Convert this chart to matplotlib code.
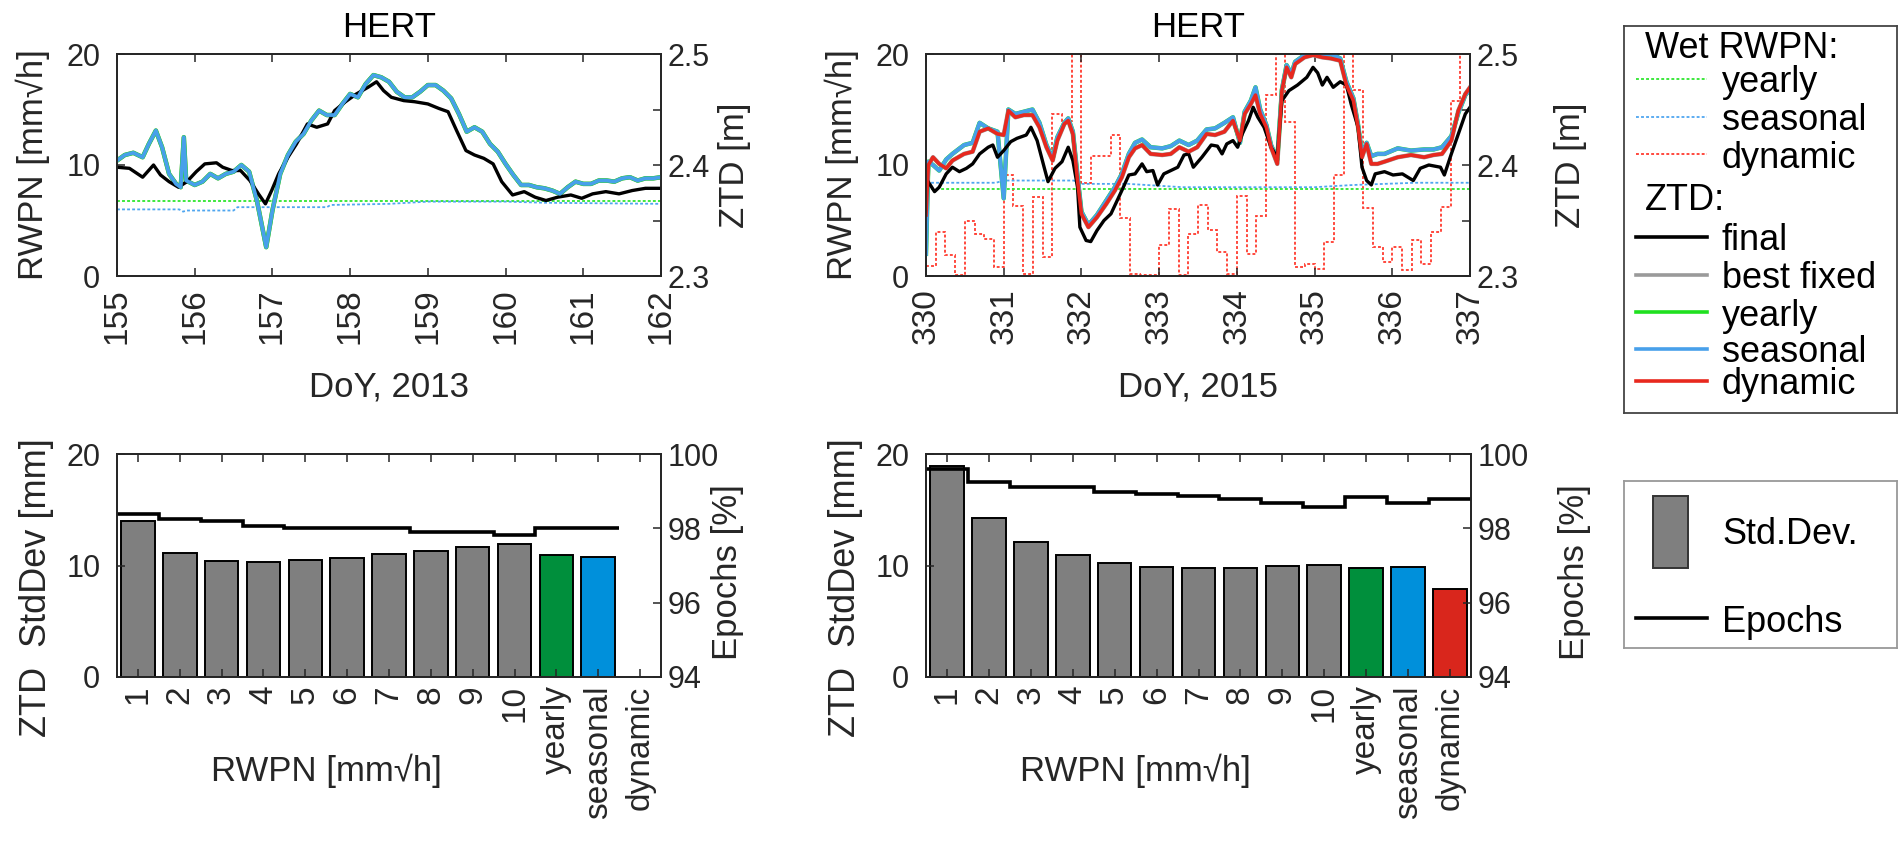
import matplotlib.pyplot as plt
from matplotlib.patches import Rectangle
from matplotlib.lines import Line2D

plt.rcParams['font.family'] = ['Liberation Sans', 'DejaVu Sans']

# ---------------- data: HERT, DoY 155-162 2013 ----------------
doy13_final = [155.00, 155.16, 155.33, 155.47, 155.56, 155.67, 155.79, 155.90, 156.02, 156.13,
               156.28, 156.36, 156.48, 156.59, 156.71, 156.82, 156.91, 156.99, 157.08, 157.20,
               157.31, 157.45, 157.57, 157.71, 157.80, 157.94, 158.08, 158.23, 158.34, 158.43,
               158.53, 158.69, 158.83, 159.00, 159.14, 159.26, 159.37, 159.49, 159.60, 159.72,
               159.84, 159.95, 160.09, 160.24, 160.38, 160.52, 160.67, 160.84, 160.98, 161.12,
               161.29, 161.46, 161.63, 161.80, 162.00]
ztd13_final = [2.398, 2.397, 2.389, 2.400, 2.391, 2.385, 2.380, 2.385, 2.394, 2.401,
               2.402, 2.398, 2.395, 2.395, 2.386, 2.374, 2.365, 2.377, 2.392, 2.407,
               2.419, 2.437, 2.434, 2.437, 2.449, 2.457, 2.464, 2.470, 2.475, 2.467,
               2.461, 2.458, 2.457, 2.455, 2.451, 2.448, 2.431, 2.413, 2.409, 2.406,
               2.401, 2.385, 2.373, 2.376, 2.371, 2.368, 2.371, 2.373, 2.370, 2.374,
               2.376, 2.374, 2.377, 2.379, 2.379]

doy13 = [155.00, 155.10, 155.21, 155.33, 155.41, 155.50, 155.58, 155.67, 155.76, 155.82,
         155.86, 155.89, 156.00, 156.10, 156.20, 156.30, 156.40, 156.50, 156.60, 156.70,
         156.80, 156.92, 157.00, 157.10, 157.20, 157.30, 157.40, 157.50, 157.60, 157.70,
         157.80, 157.90, 158.00, 158.10, 158.20, 158.30, 158.40, 158.50, 158.60, 158.70,
         158.80, 158.90, 159.00, 159.10, 159.20, 159.30, 159.40, 159.50, 159.60, 159.70,
         159.80, 159.90, 160.00, 160.10, 160.20, 160.30, 160.40, 160.50, 160.60, 160.70,
         160.80, 160.90, 161.00, 161.10, 161.20, 161.30, 161.40, 161.50, 161.60, 161.70,
         161.80, 161.90, 162.00]
ztd13_seasonal = [2.404, 2.409, 2.411, 2.407, 2.419, 2.431, 2.416, 2.392, 2.383, 2.380,
                  2.425, 2.386, 2.382, 2.385, 2.392, 2.388, 2.392, 2.394, 2.400, 2.394,
                  2.368, 2.326, 2.359, 2.392, 2.409, 2.421, 2.428, 2.440, 2.449, 2.445,
                  2.445, 2.455, 2.464, 2.461, 2.473, 2.481, 2.479, 2.475, 2.466, 2.461,
                  2.461, 2.466, 2.472, 2.472, 2.467, 2.460, 2.446, 2.430, 2.434, 2.430,
                  2.419, 2.412, 2.401, 2.391, 2.382, 2.382, 2.380, 2.379, 2.377, 2.374,
                  2.380, 2.385, 2.383, 2.383, 2.386, 2.386, 2.385, 2.388, 2.389, 2.386,
                  2.388, 2.388, 2.389]
# yearly and best-fixed ZTD lie under the seasonal curve in 2013
ztd13_yearly = ztd13_seasonal
ztd13_best = ztd13_seasonal

rwpn13_yearly_doy = [155.0, 162.0]
rwpn13_yearly = [6.8, 6.8]
rwpn13_seas_doy = [155.0, 155.8, 155.85, 155.9, 156.5, 156.55, 157.7, 157.75, 158.5, 159.0, 160.0, 160.5, 162.0]
rwpn13_seasonal = [6.0, 6.0, 5.8, 5.9, 5.9, 6.2, 6.2, 6.4, 6.5, 6.7, 6.7, 6.6, 6.5]

# ---------------- data: HERT, DoY 330-337 2015 ----------------
doy15_final = [330.00, 330.11, 330.17, 330.26, 330.34, 330.43, 330.52, 330.60, 330.69, 330.80,
               330.86, 330.92, 331.00, 331.09, 331.17, 331.29, 331.35, 331.43, 331.52, 331.57,
               331.66, 331.75, 331.83, 331.89, 331.95, 331.98, 332.06, 332.12, 332.20, 332.29,
               332.38, 332.46, 332.52, 332.61, 332.69, 332.78, 332.84, 332.92, 332.98, 333.06,
               333.15, 333.24, 333.32, 333.38, 333.44, 333.55, 333.67, 333.75, 333.81, 333.87,
               333.95, 334.01, 334.07, 334.15, 334.21, 334.27, 334.35, 334.44, 334.52, 334.55,
               334.58, 334.67, 334.78, 334.90, 334.98, 335.04, 335.10, 335.16, 335.24, 335.33,
               335.41, 335.47, 335.56, 335.61, 335.67, 335.73, 335.78, 335.90, 336.01, 336.13,
               336.27, 336.36, 336.47, 336.62, 336.67, 336.76, 336.85, 336.94, 337.00]
ztd15_final = [2.388, 2.376, 2.380, 2.392, 2.398, 2.394, 2.397, 2.401, 2.410, 2.416,
               2.418, 2.407, 2.413, 2.421, 2.424, 2.427, 2.434, 2.422, 2.398, 2.385,
               2.397, 2.403, 2.416, 2.404, 2.380, 2.344, 2.332, 2.331, 2.341, 2.350,
               2.356, 2.368, 2.377, 2.391, 2.392, 2.401, 2.394, 2.395, 2.382, 2.392,
               2.395, 2.398, 2.409, 2.410, 2.398, 2.407, 2.418, 2.417, 2.410, 2.419,
               2.422, 2.416, 2.428, 2.440, 2.452, 2.443, 2.434, 2.416, 2.407, 2.434,
               2.458, 2.467, 2.472, 2.479, 2.488, 2.483, 2.472, 2.479, 2.470, 2.475,
               2.472, 2.455, 2.434, 2.398, 2.386, 2.382, 2.392, 2.394, 2.391, 2.392,
               2.386, 2.397, 2.400, 2.398, 2.391, 2.410, 2.428, 2.446, 2.452]

doy15 = [330.00, 330.03, 330.09, 330.17, 330.26, 330.34, 330.49, 330.60, 330.69, 330.80,
         330.92, 331.00, 331.06, 331.15, 331.26, 331.37, 331.46, 331.55, 331.63, 331.69,
         331.78, 331.83, 331.89, 331.95, 332.00, 332.09, 332.20, 332.32, 332.43, 332.52,
         332.61, 332.69, 332.78, 332.89, 333.04, 333.15, 333.26, 333.38, 333.49, 333.61,
         333.72, 333.84, 333.95, 334.04, 334.10, 334.18, 334.24, 334.30, 334.38, 334.44,
         334.52, 334.58, 334.64, 334.70, 334.75, 334.87, 334.98, 335.10, 335.21, 335.33,
         335.41, 335.50, 335.56, 335.61, 335.67, 335.73, 335.81, 335.90, 336.07, 336.24,
         336.41, 336.53, 336.64, 336.76, 336.85, 336.94, 337.00]
ztd15_dynamic = [2.355, 2.400, 2.407, 2.401, 2.397, 2.404, 2.410, 2.412, 2.430, 2.433,
                 2.428, 2.427, 2.449, 2.443, 2.445, 2.445, 2.434, 2.416, 2.404, 2.422,
                 2.437, 2.440, 2.428, 2.386, 2.356, 2.344, 2.353, 2.365, 2.377, 2.389,
                 2.407, 2.415, 2.418, 2.410, 2.409, 2.410, 2.416, 2.412, 2.416, 2.428,
                 2.427, 2.430, 2.440, 2.422, 2.446, 2.455, 2.463, 2.446, 2.434, 2.416,
                 2.401, 2.467, 2.488, 2.479, 2.491, 2.497, 2.499, 2.497, 2.496, 2.494,
                 2.472, 2.458, 2.434, 2.407, 2.419, 2.401, 2.401, 2.403, 2.407, 2.409,
                 2.407, 2.409, 2.410, 2.422, 2.449, 2.464, 2.470]
ztd15_seasonal = [2.320, 2.403, 2.400, 2.395, 2.405, 2.410, 2.418, 2.420, 2.438, 2.433,
                  2.430, 2.370, 2.450, 2.446, 2.448, 2.450, 2.438, 2.418, 2.406, 2.425,
                  2.438, 2.442, 2.430, 2.390, 2.358, 2.346, 2.355, 2.368, 2.380, 2.392,
                  2.410, 2.420, 2.423, 2.416, 2.415, 2.417, 2.422, 2.418, 2.422, 2.432,
                  2.433, 2.438, 2.443, 2.420, 2.448, 2.458, 2.470, 2.450, 2.436, 2.418,
                  2.405, 2.468, 2.490, 2.482, 2.493, 2.499, 2.500, 2.499, 2.500, 2.496,
                  2.475, 2.460, 2.436, 2.410, 2.420, 2.408, 2.410, 2.410, 2.415, 2.413,
                  2.414, 2.414, 2.416, 2.426, 2.447, 2.463, 2.468]
# yearly follows seasonal, best fixed follows dynamic (hidden underneath)
ztd15_yearly = ztd15_seasonal
ztd15_best = ztd15_dynamic

rwpn15_yearly_doy = [330.0, 337.0]
rwpn15_yearly = [7.8, 7.8]
rwpn15_seas_doy = [330.0, 330.9, 331.0, 331.9, 332.0, 332.6, 333.3, 335.0, 335.5, 336.3, 337.0]
rwpn15_seasonal = [8.4, 8.4, 8.6, 8.6, 8.3, 8.3, 8.0, 8.0, 8.2, 8.4, 8.4]
# dynamic wet RWPN, 3-hourly steps (values above 20 run off the axis)
rwpn15_dynamic = [0.9, 4.0, 1.9, 0.1, 5.0, 3.8, 3.3, 0.8,
                  9.1, 6.3, 0.2, 7.1, 1.7, 14.6, 14.0, 25.0,
                  8.4, 10.8, 10.8, 12.7, 5.2, 0.2, 0.1, 0.1,
                  2.8, 6.0, 0.1, 3.8, 6.4, 4.1, 2.2, 0.2,
                  7.2, 2.0, 5.4, 16.3, 25.0, 13.9, 0.8, 1.1,
                  0.6, 3.1, 9.1, 25.0, 16.8, 6.1, 2.6, 1.3,
                  2.6, 0.5, 3.2, 1.1, 4.0, 6.2, 15.8, 25.0]
rwpn15_dyn_edges = [330 + i * 0.125 for i in range(57)]

# ---------------- data: bar charts ----------------
bar_labels = ['1', '2', '3', '4', '5', '6', '7', '8', '9', '10', 'yearly', 'seasonal', 'dynamic']
std13 = [14.0, 11.1, 10.4, 10.3, 10.45, 10.7, 11.0, 11.3, 11.65, 11.95, 10.9, 10.75]
epochs13 = [98.39, 98.25, 98.20, 98.05, 98.01, 98.01, 98.01, 97.90, 97.90, 97.81, 98.01, 98.01]
std15 = [18.95, 14.25, 12.07, 10.9, 10.18, 9.88, 9.82, 9.82, 9.94, 10.06, 9.76, 9.88, 7.93]
epochs15 = [99.60, 99.25, 99.10, 99.10, 98.99, 98.93, 98.88, 98.79, 98.69, 98.58, 98.84, 98.69, 98.79]

# ---------------- styles ----------------
AX_COL = '#262626'
C_GRAY, C_GREEN, C_BLUE, C_RED = '#9a9a9a', '#1fe01f', '#48a0ea', '#e8281e'
D_GREEN, D_BLUE, D_RED = '#2ee62e', '#4fa6f0', '#ff3a2e'
BAR_COLS = ['#7f7f7f'] * 10 + ['#008f3c', '#0090db', '#d9261c']
DOT = (0, (1.6, 1.2))
YT_FS, XT_FS, LAB_FS, LEG_FS = 22, 24, 25, 26

fig = plt.figure(figsize=(18.99, 8.5), dpi=100)
W, H = 1899.0, 850.0


def px_axes(x0, y0, x1, y1):
    return fig.add_axes([x0 / W, 1 - y1 / H, (x1 - x0) / W, (y1 - y0) / H])


def style(ax, ax2):
    for a in (ax, ax2):
        for s in a.spines.values():
            s.set_color(AX_COL)
            s.set_linewidth(1.3)
        a.tick_params(direction='in', length=6, width=1.1, colors=AX_COL,
                      labelcolor=AX_COL, labelsize=YT_FS)
    ax.tick_params(axis='x', top=True, pad=9, labelsize=XT_FS)
    ax.tick_params(axis='y', pad=12)
    ax2.tick_params(axis='y', pad=5)


def top_panel(rect, doys, ylab_r, title):
    ax = px_axes(*rect)
    ax2 = ax.twinx()
    style(ax, ax2)
    ax.set_xlim(doys[0], doys[-1])
    ax.set_xticks(doys)
    ax.set_xticklabels([str(d) for d in doys], rotation=90)
    ax.set_ylim(0, 20)
    ax.set_yticks([0, 10, 20])
    ax2.set_ylim(2.3, 2.5)
    ax2.set_yticks([2.3, 2.35, 2.4, 2.45, 2.5])
    ax2.set_yticklabels(['2.3', '', '2.4', '', '2.5'])
    ax.set_title(title, fontsize=LAB_FS, pad=12, color='k')
    ax.set_ylabel('RWPN [mm\u221ah]', fontsize=LAB_FS, color=AX_COL)
    ax.yaxis.set_label_coords(-0.155, 0.5)
    ax.yaxis.label.set_va('center')
    ax2.set_ylabel('ZTD [m]', fontsize=LAB_FS, color=AX_COL)
    ax2.yaxis.set_label_coords(ylab_r, 0.5)
    ax2.yaxis.label.set_va('center')
    return ax, ax2


# ---------- top left ----------
ax, ax2 = top_panel((117, 54, 661, 276), list(range(155, 163)), 1.135, 'HERT')
ax.plot(rwpn13_yearly_doy, rwpn13_yearly, color=D_GREEN, lw=1.3, ls=DOT)
ax.plot(rwpn13_seas_doy, rwpn13_seasonal, color=D_BLUE, lw=1.3, ls=DOT)
ax2.plot(doy13, ztd13_best, color=C_GRAY, lw=3.2)
ax2.plot(doy13, ztd13_yearly, color=C_GREEN, lw=3.2)
ax2.plot(doy13_final, ztd13_final, color='k', lw=2.4)
ax2.plot(doy13, ztd13_seasonal, color=C_BLUE, lw=2.7)
ax.set_xlabel('DoY, 2013', fontsize=LAB_FS, color=AX_COL)
ax.xaxis.set_label_coords(0.5, -0.50)
ax.xaxis.label.set_va('center')

# ---------- top right ----------
ax, ax2 = top_panel((926, 54, 1470, 276), list(range(330, 338)), 1.185, 'HERT')
ax.stairs(rwpn15_dynamic, rwpn15_dyn_edges, baseline=None, color=D_RED, lw=1.3, ls=DOT)
ax.plot(rwpn15_seas_doy, rwpn15_seasonal, color=D_BLUE, lw=1.3, ls=DOT)
ax.plot(rwpn15_yearly_doy, rwpn15_yearly, color=D_GREEN, lw=1.3, ls=DOT)
ax2.plot(doy15, ztd15_best, color=C_GRAY, lw=3.2)
ax2.plot(doy15, ztd15_yearly, color=C_GREEN, lw=3.2)
ax2.plot(doy15, ztd15_seasonal, color=C_BLUE, lw=2.9)
ax2.plot(doy15_final, ztd15_final, color='k', lw=2.4)
ax2.plot(doy15, ztd15_dynamic, color=C_RED, lw=2.6)
ax.set_xlabel('DoY, 2015', fontsize=LAB_FS, color=AX_COL)
ax.xaxis.set_label_coords(0.5, -0.50)
ax.xaxis.label.set_va('center')


# ---------- bottom panels ----------
def bottom_panel(rect, std, epochs, ylab_r):
    ax = px_axes(*rect)
    ax2 = ax.twinx()
    style(ax, ax2)
    ax.tick_params(axis='x', pad=6, labelsize=24)
    pos = list(range(1, len(std) + 1))
    ax.bar(pos, std, width=0.8, color=BAR_COLS[:len(std)], edgecolor='k', lw=1.4)
    edges = [p - 0.5 for p in pos] + [len(std) + 0.5]
    ax2.stairs(epochs, edges, baseline=None, color='k', lw=2.6)
    ax.set_xlim(0.5, 13.5)
    ax.set_xticks(range(1, 14))
    ax.set_xticklabels(bar_labels, rotation=90)
    ax.set_ylim(0, 20)
    ax.set_yticks([0, 10, 20])
    ax2.set_ylim(94, 100)
    ax2.set_yticks([94, 96, 98, 100])
    ax.set_ylabel('ZTD  StdDev [mm]', fontsize=LAB_FS + 1, color=AX_COL)
    ax.yaxis.set_label_coords(-0.148, 0.40)
    ax.yaxis.label.set_va('center')
    ax2.set_ylabel('Epochs [%]', fontsize=LAB_FS, color=AX_COL)
    ax2.yaxis.set_label_coords(ylab_r, 0.47)
    ax2.yaxis.label.set_va('center')
    ax.set_xlabel('RWPN [mm\u221ah]', fontsize=LAB_FS, color=AX_COL)
    ax.xaxis.set_label_coords(5 / 13, -0.42)
    ax.xaxis.label.set_va('center')
    return ax, ax2


bottom_panel((117, 454, 661, 677), std13, epochs13, 1.122)
bottom_panel((926, 454, 1471, 677), std15, epochs15, 1.19)

# ---------- legend: time series ----------
lg = px_axes(1624, 26, 1897, 413)
lg.set_xlim(0, 273)
lg.set_ylim(387, 0)
lg.set_xticks([])
lg.set_yticks([])
for s in lg.spines.values():
    s.set_color('#444444')
    s.set_linewidth(1.3)
lg.text(21, 22, 'Wet RWPN:', fontsize=LEG_FS, va='center', ha='left')
lg.text(21, 174, 'ZTD:', fontsize=LEG_FS, va='center', ha='left')
rows = [(53, D_GREEN, DOT, 1.3, 'yearly'), (91, D_BLUE, DOT, 1.3, 'seasonal'),
        (128, D_RED, DOT, 1.3, 'dynamic'),
        (211, 'k', '-', 2.6, 'final'), (249, C_GRAY, '-', 2.6, 'best fixed'),
        (286, C_GREEN, '-', 2.6, 'yearly'), (323, C_BLUE, '-', 2.6, 'seasonal'),
        (355, C_RED, '-', 2.6, 'dynamic')]
for y, c, ls, lw, name in rows:
    lg.add_line(Line2D([12, 83], [y, y], color=c, ls=ls, lw=lw))
    lg.text(98, y, name, fontsize=LEG_FS, va='center_baseline', ha='left')

# ---------- legend: bars ----------
lb = px_axes(1624, 481, 1897, 648)
lb.set_xlim(0, 273)
lb.set_ylim(167, 0)
lb.set_xticks([])
lb.set_yticks([])
for s in lb.spines.values():
    s.set_color('#999999')
    s.set_linewidth(1.3)
lb.add_patch(Rectangle((29, 15), 35, 72, facecolor='#7f7f7f', edgecolor='#333333', lw=1.4))
lb.text(98, 50, 'Std.Dev.', fontsize=LEG_FS, va='center_baseline', ha='left')
lb.add_line(Line2D([12, 83], [137, 137], color='k', lw=2.6))
lb.text(98, 137, 'Epochs', fontsize=LEG_FS, va='center_baseline', ha='left')

fig.savefig('out.png', dpi=100)
